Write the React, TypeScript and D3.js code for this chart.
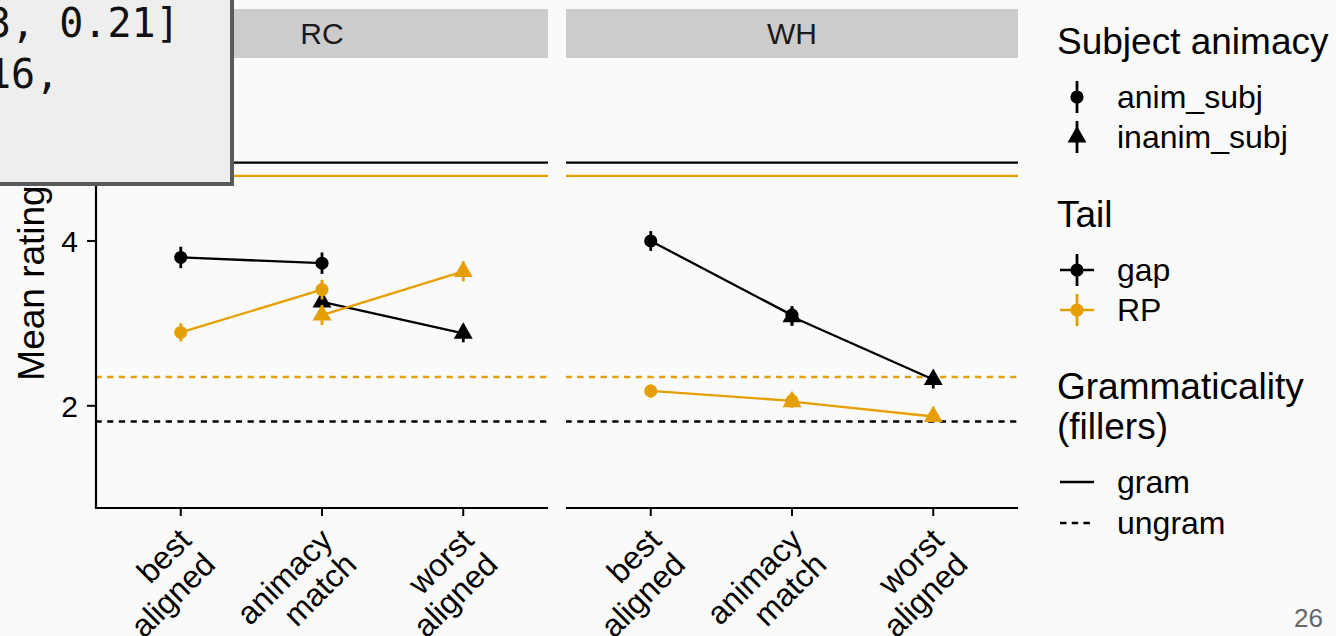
import React from "react";
import * as d3 from "d3";

const W = 1336;
const H = 636;

const panels = ["RC", "WH"];
const conditions = ["best aligned", "animacy match", "worst aligned"];
const tickLines = [["best", "aligned"], ["animacy", "match"], ["worst", "aligned"]];
const yTicks = [2, 4];
const tails = ["gap", "RP"];
const animacies = ["anim_subj", "inanim_subj"];

// [condition, mean rating, standard error]
const rcGapAnim: [string, number, number][] = [["best aligned", 3.8, 0.13], ["animacy match", 3.73, 0.13]];
const rcGapInanim: [string, number, number][] = [["animacy match", 3.26, 0.12], ["worst aligned", 2.88, 0.11]];
const rcRpAnim: [string, number, number][] = [["best aligned", 2.89, 0.11], ["animacy match", 3.41, 0.12]];
const rcRpInanim: [string, number, number][] = [["animacy match", 3.1, 0.12], ["worst aligned", 3.63, 0.12]];
const whGapAnim: [string, number, number][] = [["best aligned", 4.0, 0.12], ["animacy match", 3.1, 0.11]];
const whGapInanim: [string, number, number][] = [["animacy match", 3.08, 0.11], ["worst aligned", 2.32, 0.11]];
const whRpAnim: [string, number, number][] = [["best aligned", 2.18, 0.08], ["animacy match", 2.06, 0.07]];
const whRpInanim: [string, number, number][] = [["animacy match", 2.05, 0.07], ["worst aligned", 1.87, 0.06]];

// filler means, by tail colour
const fillerTail = ["gap", "RP"];
const fillerGram = [4.95, 4.79];
const fillerUngram = [1.81, 2.35];

const series = [
  { panel: "RC", tail: "gap", anim: "anim_subj", values: rcGapAnim },
  { panel: "RC", tail: "gap", anim: "inanim_subj", values: rcGapInanim },
  { panel: "RC", tail: "RP", anim: "anim_subj", values: rcRpAnim },
  { panel: "RC", tail: "RP", anim: "inanim_subj", values: rcRpInanim },
  { panel: "WH", tail: "gap", anim: "anim_subj", values: whGapAnim },
  { panel: "WH", tail: "gap", anim: "inanim_subj", values: whGapInanim },
  { panel: "WH", tail: "RP", anim: "anim_subj", values: whRpAnim },
  { panel: "WH", tail: "RP", anim: "inanim_subj", values: whRpInanim },
];

const FONT = "'Liberation Sans', Arial, Helvetica, sans-serif";
const ORANGE = "#E69F00";

const color = d3.scaleOrdinal<string, string>().domain(tails).range(["#000000", ORANGE]);
const shape = d3.scaleOrdinal<string, d3.SymbolType>().domain(animacies).range([d3.symbolCircle, d3.symbolTriangle]);
const symSize = d3.scaleOrdinal<string, number>().domain(animacies).range([135, 155]);

const plotLeft = 96;
const panelW = 452;
const panelGap = 18;
const panelTop = 58;
const panelBottom = 508;
const stripTop = 9;

const y = d3.scaleLinear().domain([0.76, 6.22]).range([panelBottom, panelTop]);

function Marker({ cx, cy, anim, fill }: { cx: number; cy: number; anim: string; fill: string }) {
  const p = d3.symbol().type(shape(anim)).size(symSize(anim))();
  return <path d={p || ""} transform={`translate(${cx},${cy})`} fill={fill} />;
}

export default function App() {
  return (
    <svg width={W} height={H} style={{ position: "absolute", left: 0, top: 0, background: "#fafafa" }} fontFamily={FONT}>
      <rect width={W} height={H} fill="#fafafa" />
      {panels.map((p, pi) => {
        const x0 = plotLeft + pi * (panelW + panelGap);
        const x = d3.scalePoint<string>().domain(conditions).range([x0, x0 + panelW]).padding(0.6);
        const line = d3
          .line<[string, number, number]>()
          .x((d) => x(d[0]) as number)
          .y((d) => y(d[1]));
        return (
          <g key={p}>
            <rect x={x0} y={stripTop} width={panelW} height={panelTop - stripTop} fill="#cccccc" />
            <text x={x0 + panelW / 2} y={44} fontSize={30} textAnchor="middle" fill="#1a1a1a">
              {p}
            </text>
            {fillerTail.map((t, i) => (
              <g key={t}>
                <line x1={x0} x2={x0 + panelW} y1={y(fillerGram[i])} y2={y(fillerGram[i])} stroke={color(t)} strokeWidth={2.2} />
                <line
                  x1={x0}
                  x2={x0 + panelW}
                  y1={y(fillerUngram[i])}
                  y2={y(fillerUngram[i])}
                  stroke={color(t)}
                  strokeWidth={2.4}
                  strokeDasharray="6.2,5.5"
                  strokeDashoffset={0.5}
                />
              </g>
            ))}
            {series
              .filter((s) => s.panel === p)
              .map((s, i) => (
                <path key={i} d={line(s.values) || ""} fill="none" stroke={color(s.tail)} strokeWidth={2.3} />
              ))}
            {series
              .filter((s) => s.panel === p)
              .map((s, i) => (
                <g key={i}>
                  {s.values.map((d) => (
                    <g key={d[0]}>
                      <line
                        x1={x(d[0])}
                        x2={x(d[0])}
                        y1={y(d[1] - d[2])}
                        y2={y(d[1] + d[2])}
                        stroke={color(s.tail)}
                        strokeWidth={2.8}
                      />
                      <Marker cx={x(d[0]) as number} cy={y(d[1])} anim={s.anim} fill={color(s.tail)} />
                    </g>
                  ))}
                </g>
              ))}
            {/* bottom axis */}
            <line x1={x0} x2={x0 + panelW} y1={panelBottom} y2={panelBottom} stroke="#000" strokeWidth={2.2} />
            {conditions.map((c, ci) => (
              <g key={c}>
                <line x1={x(c)} x2={x(c)} y1={panelBottom} y2={panelBottom + 8} stroke="#000" strokeWidth={2} />
                <g transform={`translate(${(x(c) as number) - 4},${panelBottom + 18}) rotate(-45)`}>
                  {tickLines[ci].map((t, li) => (
                    <text key={li} x={0} y={23 + li * 34} fontSize={32} textAnchor="end" fill="#000">
                      {t}
                    </text>
                  ))}
                </g>
              </g>
            ))}
          </g>
        );
      })}
      {/* left axis */}
      <line x1={plotLeft} x2={plotLeft} y1={panelTop} y2={panelBottom + 1} stroke="#000" strokeWidth={2.2} />
      {yTicks.map((t) => (
        <g key={t}>
          <line x1={plotLeft - 9} x2={plotLeft} y1={y(t)} y2={y(t)} stroke="#000" strokeWidth={2} />
          <text x={78} y={y(t) + 11} fontSize={30} textAnchor="end" fill="#000">
            {t}
          </text>
        </g>
      ))}
      <text transform={`translate(44,${(panelTop + panelBottom) / 2}) rotate(-90)`} fontSize={37} textAnchor="middle" fill="#000">
        Mean rating
      </text>

      {/* legends */}
      <g>
        <text x={1057} y={54} fontSize={37} fill="#000">Subject animacy</text>
        {animacies.map((a, i) => {
          const cy = 97 + i * 40;
          return (
            <g key={a}>
              <line x1={1077} x2={1077} y1={cy - 16} y2={cy + 16} stroke="#000" strokeWidth={2.8} />
              <Marker cx={1077} cy={cy} anim={a} fill="#000" />
              <text x={1117} y={cy + 11} fontSize={32} fill="#000">{a}</text>
            </g>
          );
        })}
        <text x={1057} y={227} fontSize={37} fill="#000">Tail</text>
        {tails.map((t, i) => {
          const cy = 270 + i * 40;
          return (
            <g key={t}>
              <line x1={1060} x2={1094} y1={cy} y2={cy} stroke={color(t)} strokeWidth={2.6} />
              <line x1={1077} x2={1077} y1={cy - 16} y2={cy + 16} stroke={color(t)} strokeWidth={2.8} />
              <Marker cx={1077} cy={cy} anim="anim_subj" fill={color(t)} />
              <text x={1117} y={cy + 11} fontSize={32} fill="#000">{t}</text>
            </g>
          );
        })}
        <text x={1057} y={399} fontSize={37} fill="#000">Grammaticality</text>
        <text x={1057} y={439} fontSize={37} fill="#000">(fillers)</text>
        {["gram", "ungram"].map((g, i) => {
          const cy = 482 + i * 41;
          return (
            <g key={g}>
              <line
                x1={1060}
                x2={1094}
                y1={cy}
                y2={cy}
                stroke="#000"
                strokeWidth={2.4}
                strokeDasharray={i === 1 ? "6.5,5.2" : undefined}
              />
              <text x={1117} y={cy + 11} fontSize={32} fill="#000">{g}</text>
            </g>
          );
        })}
      </g>
      <text x={1323} y={627} fontSize={26} textAnchor="end" fill="#666">26</text>

      {/* code tooltip overlay */}
      <g>
        <rect x={-10} y={-10} width={242} height={194} fill="#eeeeee" stroke="#5a5a5a" strokeWidth={4} />
        <text x={-13} y={37} fontSize={40} fontFamily="'DejaVu Sans Mono', monospace" fill="#111">
          3, 0.21]
        </text>
        <text x={-13} y={88} fontSize={40} fontFamily="'DejaVu Sans Mono', monospace" fill="#111">
          16,
        </text>
      </g>
    </svg>
  );
}
